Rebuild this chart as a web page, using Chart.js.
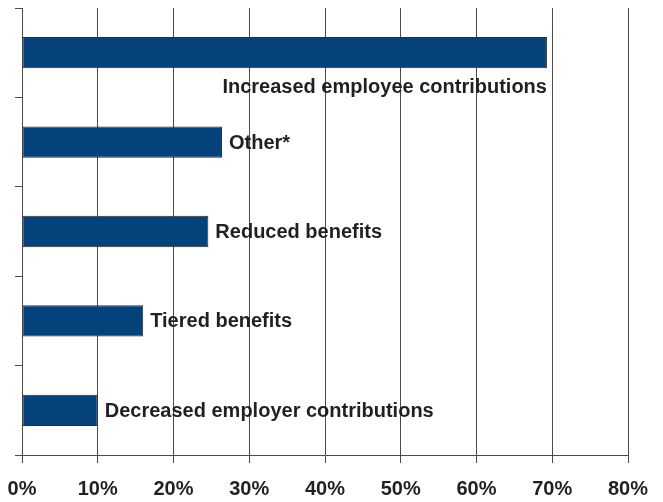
<!DOCTYPE html>
<html>
<head>
<meta charset="utf-8">
<script src="https://cdn.jsdelivr.net/npm/chart.js@4/dist/chart.umd.min.js"></script>
<style>
  html, body { margin: 0; padding: 0; background: #fff; }
  #wrap { width: 663px; height: 502px; }
</style>
</head>
<body>
<div id="wrap"><canvas id="myChart" width="663" height="502"></canvas></div>
<script>
const categorias = [
  "Increased employee contributions",
  "Other*",
  "Reduced benefits",
  "Tiered benefits",
  "Decreased employer contributions",
];
const valores = [69.3, 26.4, 24.6, 16.0, 10.0];
const ticksX = [0, 10, 20, 30, 40, 50, 60, 70, 80];

const fuente = "'Liberation Sans', Arial, sans-serif";

// etiquetas junto a cada barra (la primera va debajo, alineada al final)
const etiquetas = {
  id: "etiquetas",
  afterDatasetsDraw(chart) {
    const ctx = chart.ctx;
    const meta = chart.getDatasetMeta(0);
    ctx.save();
    ctx.font = "bold 20px " + fuente;
    ctx.fillStyle = "#231f20";
    meta.data.forEach((bar, i) => {
      const texto = categorias[i];
      ctx.textBaseline = "middle";
      if (i === 0) {
        ctx.textAlign = "right";
        ctx.fillText(texto, bar.x, bar.y + bar.height / 2 + 19);
      } else {
        ctx.textAlign = "left";
        ctx.fillText(texto, bar.x + 7, bar.y + 1);
      }
    });
    ctx.restore();
  },
};

const data = {
  labels: categorias,
  datasets: [
    {
      data: valores,
      backgroundColor: "#03427a",
      borderColor: "#2e2e2e",
      borderWidth: 1,
      borderSkipped: false,
      categoryPercentage: 0.35,
      barPercentage: 1,
    },
  ],
};

const config = {
  type: "bar",
  data,
  plugins: [etiquetas],
  options: {
    indexAxis: "y",
    responsive: false,
    animation: false,
    layout: { padding: { top: 8, left: 15, right: 35, bottom: 2 } },
    plugins: { legend: { display: false }, tooltip: { enabled: false } },
    scales: {
      x: {
        min: 0,
        max: 80,
        afterBuildTicks: (scale) => {
          scale.ticks = ticksX.map((v) => ({ value: v }));
        },
        afterFit: (scale) => {
          scale.height = 45;
          scale.paddingLeft = 0;
          scale.paddingRight = 0;
        },
        grid: { color: "#4a4a4a", lineWidth: 1, tickLength: 8 },
        border: { color: "#4a4a4a", width: 1 },
        ticks: {
          padding: 14,
          color: "#231f20",
          font: { family: fuente, size: 20, weight: "bold" },
          callback: (v) => v + "%",
          maxRotation: 0,
          autoSkip: false,
        },
      },
      y: {
        afterFit: (scale) => {
          scale.width = 7;
        },
        grid: {
          offset: true,
          drawOnChartArea: false,
          drawTicks: true,
          tickLength: 7,
          color: "#4a4a4a",
        },
        border: { color: "#4a4a4a", width: 1 },
        ticks: { display: false },
      },
    },
  },
};

new Chart(document.querySelector("#myChart"), config);
</script>
</body>
</html>
